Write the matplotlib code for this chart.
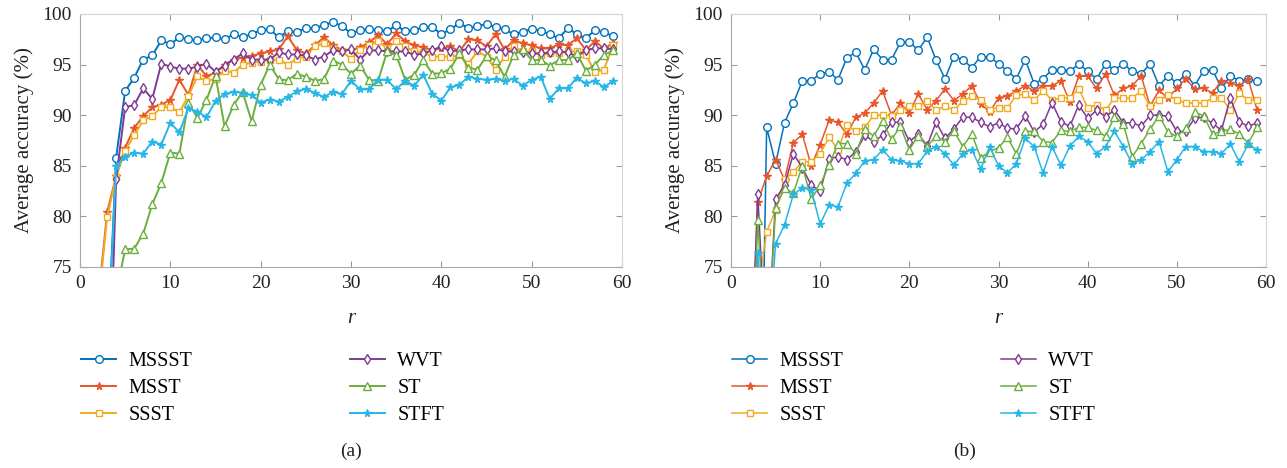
import numpy as np
import matplotlib
matplotlib.use("Agg")
import matplotlib.pyplot as plt

plt.rcParams['font.family'] = ['Liberation Serif', 'DejaVu Serif']

r = np.arange(2, 60)
names = ['MSSST', 'MSST', 'SSST', 'WVT', 'ST', 'STFT']

# panel (a)
a_mssst = [60, 66, 85.8, 92.4, 93.7, 95.5, 95.9, 97.4, 97.0, 97.7, 97.5, 97.4, 97.6, 97.7, 97.5,
           98.0, 97.7, 98.0, 98.4, 98.5, 97.7, 98.3, 98.2, 98.6, 98.6, 98.9, 99.2, 98.8, 98.1, 98.4,
           98.5, 98.4, 98.3, 98.9, 98.3, 98.4, 98.7, 98.7, 98.0, 98.5, 99.1, 98.6, 98.8, 99.0, 98.7,
           98.5, 98.0, 98.25, 98.5, 98.35, 98.0, 97.6, 98.6, 98.0, 97.6, 98.4, 98.2, 97.8]
a_msst = [71.5, 80.4, 84.0, 86.8, 88.75, 89.9, 90.8, 91.05, 91.5, 93.5, 92.0, 95.0, 93.85, 94.2, 95.0,
          95.5, 95.7, 95.85, 96.1, 96.3, 96.5, 97.8, 96.45, 96.1, 96.9, 97.7, 96.9, 96.45, 96.45, 96.7,
          97.2, 97.9, 97.0, 98.1, 97.3, 96.9, 96.7, 96.45, 96.6, 96.8, 96.3, 97.5, 97.4, 96.8, 98.0,
          96.5, 97.4, 97.1, 96.9, 96.6, 96.6, 97.0, 96.9, 97.6, 96.45, 97.3, 96.6, 97.1]
a_ssst = [71, 79.9, 83.9, 86.5, 88.0, 89.5, 89.9, 90.8, 90.8, 90.3, 91.9, 93.85, 93.35, 93.6, 94.4,
          94.2, 95.0, 95.2, 95.3, 95.5, 95.5, 95.0, 95.6, 95.8, 96.85, 97.1, 96.6, 96.3, 95.6, 96.45,
          96.9, 97.3, 96.6, 97.3, 96.8, 96.3, 96.2, 95.8, 95.8, 95.8, 95.9, 95.1, 96.3, 95.8, 94.5,
          95.8, 96.8, 96.3, 96.3, 95.95, 96.1, 96.1, 96.3, 96.3, 95.95, 94.3, 94.5, 96.9]
a_wvt = [45, 55, 83.7, 90.8, 91.0, 92.65, 91.6, 95.1, 94.8, 94.6, 94.6, 94.8, 95.1, 94.3, 94.9,
         95.5, 96.1, 95.5, 95.5, 95.5, 96.2, 96.0, 96.0, 95.9, 95.5, 95.8, 96.4, 96.3, 96.5, 95.5,
         96.4, 96.4, 96.3, 96.3, 96.3, 95.95, 96.1, 96.4, 96.8, 96.3, 96.45, 96.5, 96.5, 96.5, 96.6,
         96.3, 96.3, 96.2, 96.1, 96.1, 96.2, 96.3, 96.2, 95.8, 96.45, 96.6, 96.6, 96.5]
a_st = [55, 62, 72.4, 76.75, 76.8, 78.3, 81.2, 83.3, 86.3, 86.2, 91.2, 89.75, 91.5, 93.9, 88.9,
        91.0, 92.3, 89.4, 93.0, 95.0, 93.55, 93.45, 94.1, 93.8, 93.4, 93.55, 95.4, 95.0, 94.1, 94.9,
        93.5, 93.4, 96.3, 95.95, 93.5, 94.0, 95.45, 94.1, 94.15, 94.6, 96.1, 94.7, 94.5, 95.85, 95.45,
        93.8, 95.95, 96.5, 95.45, 95.45, 94.9, 95.45, 95.45, 96.1, 94.4, 95.0, 95.95, 96.4]
a_stft = [55, 66, 85.0, 85.9, 86.3, 86.2, 87.4, 87.1, 89.25, 88.3, 90.7, 90.35, 89.8, 91.4, 92.1,
          92.3, 92.2, 92.0, 91.25, 91.55, 91.35, 91.8, 92.35, 92.6, 92.2, 91.8, 92.3, 92.1, 93.4, 92.55,
          92.55, 93.5, 93.5, 92.55, 93.4, 92.9, 94.0, 92.1, 91.45, 92.75, 93.0, 93.8, 93.6, 93.5, 93.6,
          93.4, 93.6, 92.9, 93.5, 93.8, 91.6, 92.65, 92.65, 93.7, 93.15, 93.4, 92.75, 93.4]

# panel (b)
b_mssst = [35, 40, 88.8, 85.2, 89.25, 91.2, 93.4, 93.4, 94.1, 94.3, 93.5, 95.7, 96.2, 94.5, 96.5,
           95.5, 95.5, 97.2, 97.2, 96.45, 97.7, 95.45, 93.6, 95.8, 95.5, 94.7, 95.8, 95.75, 95.1, 94.35,
           93.6, 95.5, 93.1, 93.6, 94.5, 94.5, 94.35, 95.05, 94.35, 93.6, 95.05, 94.5, 95.05, 94.35, 94.1,
           95.05, 92.9, 93.9, 93.15, 94.1, 92.9, 94.4, 94.5, 92.65, 93.9, 93.4, 93.55, 93.35]
b_msst = [60, 81.4, 84.0, 85.6, 83.6, 87.3, 88.1, 85.0, 87.1, 89.5, 89.3, 88.1, 89.8, 90.2, 91.2,
          92.4, 90.0, 91.2, 90.2, 92.1, 90.55, 91.45, 92.6, 91.45, 92.1, 92.9, 91.15, 90.3, 91.7, 91.9,
          92.4, 92.9, 92.4, 92.9, 92.9, 93.4, 91.35, 93.85, 93.85, 92.65, 94.1, 91.95, 92.65, 92.9, 93.9,
          90.9, 92.45, 91.7, 92.65, 93.6, 92.6, 92.65, 92.2, 93.4, 93.15, 92.9, 93.6, 90.5]
b_ssst = [55, 72.5, 78.5, 80.6, 83.7, 84.4, 85.4, 85.4, 86.2, 87.8, 86.6, 89.0, 88.4, 88.8, 90.0,
          90.0, 89.9, 90.5, 90.9, 90.9, 91.4, 90.5, 90.9, 90.5, 91.4, 91.85, 91.5, 90.55, 90.75, 90.75,
          91.95, 92.1, 91.5, 92.4, 91.5, 91.7, 91.7, 92.6, 90.75, 91.0, 90.5, 91.7, 91.7, 91.7, 92.4,
          90.9, 91.5, 92.0, 91.5, 91.2, 91.2, 91.2, 91.7, 91.7, 90.5, 92.15, 91.5, 91.5]
b_wvt = [58, 82.2, 65, 81.7, 83.1, 86.2, 84.8, 83.1, 82.5, 85.7, 85.9, 85.6, 86.4, 88.0, 87.4,
         88.0, 89.3, 89.3, 87.4, 88.1, 87.0, 89.3, 87.7, 88.65, 89.8, 89.8, 89.3, 88.85, 89.25, 88.7,
         88.65, 89.95, 88.35, 89.1, 91.25, 89.35, 88.9, 91.0, 89.7, 90.5, 89.85, 90.5, 89.25, 89.25, 88.9,
         90.0, 90.0, 89.9, 88.4, 88.4, 89.7, 89.8, 89.2, 88.5, 91.7, 89.35, 88.9, 89.25]
b_st = [55, 79.6, 65, 80.8, 82.8, 82.3, 85.0, 81.7, 83.1, 85.1, 87.2, 87.2, 86.2, 88.6, 87.95,
        89.4, 87.6, 88.9, 86.6, 87.95, 86.9, 87.95, 87.4, 88.45, 86.9, 88.15, 85.8, 86.4, 86.8, 87.8,
        86.2, 88.4, 88.4, 87.4, 87.3, 88.5, 88.4, 88.8, 88.8, 88.5, 87.9, 89.85, 89.15, 85.9, 87.2,
        88.6, 89.95, 88.35, 87.9, 88.7, 90.3, 89.95, 88.15, 88.4, 88.6, 88.15, 87.25, 88.8]
b_stft = [55, 76.35, 65, 77.3, 79.15, 82.2, 82.8, 82.6, 79.25, 81.1, 80.95, 83.3, 84.25, 85.5, 85.6,
          86.6, 85.6, 85.5, 85.2, 85.2, 86.45, 86.9, 86.2, 85.05, 86.2, 86.6, 84.7, 86.9, 85.0, 84.3,
          85.2, 87.7, 86.9, 84.3, 86.9, 85.05, 86.95, 87.9, 87.4, 86.2, 86.9, 88.4, 86.9, 85.2, 85.6,
          86.4, 87.4, 84.4, 85.6, 86.9, 86.9, 86.4, 86.4, 86.2, 87.15, 85.4, 87.15, 86.6]

colors = ['#0072BD', '#E8562A', '#F2A91E', '#7E3A93', '#6AAF3D', '#27B6E8']
markers = ['o', '*', 's', 'd', '^', '*']
msizes = [5.5, 5.5, 5, 5.5, 6, 5.5]
hollow = [True, False, True, True, True, False]

W, H = 1287, 468
fig = plt.figure(figsize=(W / 100, H / 100), dpi=100)


def draw(rect, series, lw, leg_x, cap_x, cap):
    ax = fig.add_axes([rect[0] / W, 1 - rect[3] / H, (rect[2] - rect[0]) / W, (rect[3] - rect[1]) / H])
    for vals, name, c, m, ms, h in zip(series, names, colors, markers, msizes, hollow):
        ax.plot(r, vals, color=c, lw=lw, marker=m, ms=ms, mew=1.0,
                mfc='white' if h else c, mec=c, label=name)
    ax.set_xlim(0, 60)
    ax.set_ylim(75, 100)
    ax.set_xticks(np.arange(0, 61, 10))
    ax.set_yticks(np.arange(75, 101, 5))
    ax.tick_params(direction='in', length=4, width=0.8, color='#9a9a9a',
                   labelsize=14, labelcolor='#222222', top=True, right=True, pad=6)
    for s in ['left', 'bottom']:
        ax.spines[s].set_color('#a8a8a8')
    for s in ['top', 'right']:
        ax.spines[s].set_color('#d6d6d6')
    ax.set_ylabel('Average accuracy (%)', fontsize=15, color='#222222', labelpad=6)
    ax.set_xlabel('r', fontsize=15, style='italic', color='#222222', labelpad=12)
    ax.legend(loc='upper left', bbox_to_anchor=(leg_x / W, 1 - 352 / H),
              bbox_transform=fig.transFigure, ncol=2, frameon=False, fontsize=14.5,
              handlelength=1.75, handletextpad=0.62, columnspacing=7.8,
              labelspacing=0.4, borderpad=0, borderaxespad=0)
    fig.text(cap_x / W, 1 - 451 / H, cap, ha='center', va='center', fontsize=14, color='#222222')
    return ax


draw((80, 14, 622, 267), [a_mssst, a_msst, a_ssst, a_wvt, a_st, a_stft], 1.4, 81, 351, '(a)')
draw((731, 14, 1266, 267), [b_mssst, b_msst, b_ssst, b_wvt, b_st, b_stft], 1.1, 732, 965, '(b)')

fig.savefig('out.png', dpi=100)
